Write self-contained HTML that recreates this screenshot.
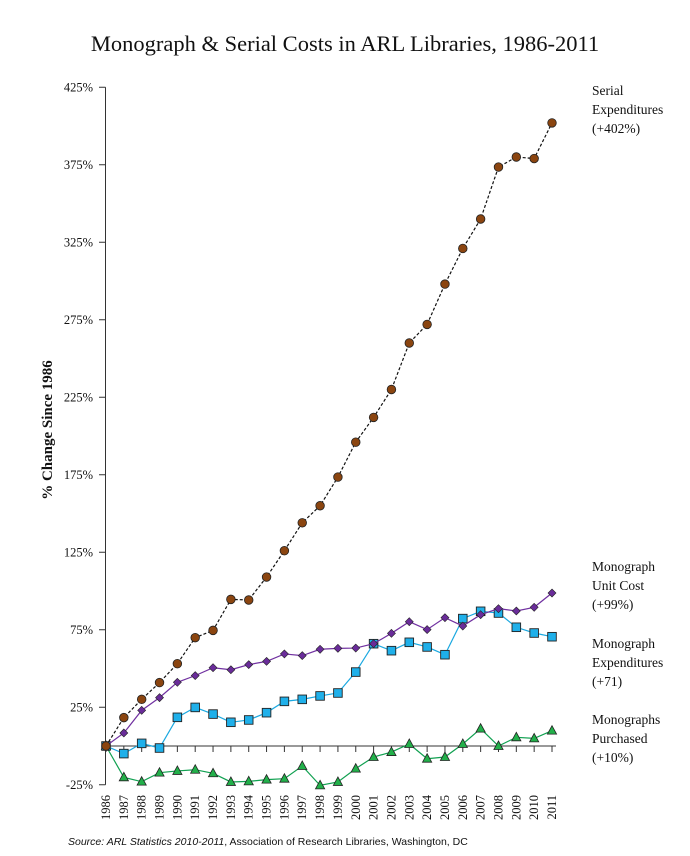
<!DOCTYPE html>
<html><head><meta charset="utf-8"><style>
body{margin:0;background:#fff;width:690px;height:851px;overflow:hidden}
svg text{font-family:"Liberation Serif",serif;fill:#111}
</style></head><body>
<svg id="c" width="690" height="851" xmlns="http://www.w3.org/2000/svg"></svg>
<script>
const years=[1986,1987,1988,1989,1990,1991,1992,1993,1994,1995,1996,1997,1998,1999,2000,2001,2002,2003,2004,2005,2006,2007,2008,2009,2010,2011];
const serial=[0,18.3,30.1,40.9,53.1,69.9,74.6,94.6,94.2,109,126,144,155,173.5,196,212,230,260,272,298,321,340,373.5,380,379,402];
const unitCost=[0,8.4,23,31.2,41.1,45.4,50.5,49.2,52.5,54.6,59.4,58.3,62.4,63.0,63.2,66.0,72.7,80.2,75.1,82.8,77.4,84.7,88.6,87.1,89.5,98.7];
const monoExp=[0,-4.9,1.7,-1.3,18.5,24.9,20.6,15.3,16.8,21.5,28.8,30.1,32.3,34.2,47.7,66.0,61.5,66.9,63.9,58.9,82.2,86.9,85.8,76.6,72.9,70.5];
const purchased=[0,-20.2,-23.0,-17.2,-16.1,-15.3,-17.6,-23.2,-22.8,-21.7,-21.1,-12.9,-25.4,-23.2,-14.6,-7.1,-3.9,1.3,-8.2,-7.1,1.3,11.2,0,5.6,4.9,9.9];
const yTicks=[425,375,325,275,225,175,125,75,25,-25];

const svg=document.getElementById('c');
const NS='http://www.w3.org/2000/svg';
const X=i=>106+i*17.84;
const Y=v=>746-v*1.55;
function mk(t,a,p){const e=document.createElementNS(NS,t);for(const k in a)e.setAttribute(k,a[k]);(p||svg).appendChild(e);return e;}

let t=mk('text',{x:345,y:51,'text-anchor':'middle','font-size':22.5});
t.textContent='Monograph & Serial Costs in ARL Libraries, 1986-2011';



let ya=mk('line',{x1:105.5,y1:Y(425),x2:105.5,y2:Y(-25),stroke:'#333','stroke-width':1});


yTicks.forEach(v=>{
  mk('line',{x1:99,x2:105.5,y1:Y(v),y2:Y(v),stroke:'#333'});
  const l=mk('text',{x:93,y:Y(v)+4,'text-anchor':'end','font-size':12.5});
  l.textContent=v+'%';
  
  
});
let xa=mk('line',{x1:105.5,y1:Y(0),x2:X(years.length-1)+4,y2:Y(0),stroke:'#333'});


years.forEach((yr,i)=>{
  mk('line',{x1:X(i),x2:X(i),y1:Y(0),y2:Y(0)+6,stroke:'#333'});
  const l=mk('text',{x:0,y:0,'text-anchor':'end','font-size':12.5,transform:`translate(${X(i)+4},795) rotate(-90)`});
  l.textContent=yr;
  
  
});
let yt=mk('text',{x:0,y:0,'text-anchor':'middle','font-size':15,'font-weight':'bold',transform:'translate(52,430) rotate(-90)'});
yt.textContent='% Change Since 1986';



function series(data,name,stroke,dash,marker,fill){
  const g=mk('g',{});
  
  
  mk('polyline',{points:data.map((v,i)=>X(i)+','+Y(v)).join(' '),fill:'none',stroke:stroke,'stroke-width':1.2,'stroke-dasharray':dash||''},g);
  data.forEach((v,i)=>{
    const x=X(i),y=Y(v);let m;
    if(marker==='circle')m=mk('circle',{cx:x,cy:y,r:4.3,fill:fill,stroke:'#222','stroke-width':0.8},g);
    else if(marker==='square')m=mk('rect',{x:x-4.3,y:y-4.3,width:8.6,height:8.6,fill:fill,stroke:'#222','stroke-width':0.9},g);
    else if(marker==='diamond')m=mk('polygon',{points:`${x},${y-4} ${x+4},${y} ${x},${y+4} ${x-4},${y}`,fill:fill,stroke:'#222','stroke-width':0.6},g);
    else m=mk('polygon',{points:`${x},${y-5} ${x+4.6},${y+3.5} ${x-4.6},${y+3.5}`,fill:fill,stroke:'#222','stroke-width':0.8},g);
    
    
  });
}
series(purchased,'monographs-purchased','#10a050','','triangle','#22b04a');
series(monoExp,'monograph-expenditures','#1aa8e0','','square','#1fb0ea');
series(unitCost,'monograph-unit-cost','#7030a0','','diamond','#6a2c9a');
series(serial,'serial-expenditures','#111','3,2','circle','#8b4510');

const labels=[['serial-label',['Serial','Expenditures','(+402%)'],95],['unit-cost-label',['Monograph','Unit Cost','(+99%)'],571],['mono-exp-label',['Monograph','Expenditures','(+71)'],648],['purchased-label',['Monographs','Purchased','(+10%)'],724]];
labels.forEach(([n,ls,y0])=>{
  const tx=mk('text',{x:592,y:y0,'font-size':13.5});
  
  
  ls.forEach((s,k)=>{const ts=mk('tspan',{x:592,y:y0+k*19},tx);ts.textContent=s;});
});
let src=mk('text',{x:68,y:845,'font-size':10.5,'font-style':'italic',style:'font-family:"Liberation Sans",sans-serif'});


src.innerHTML='Source: <tspan>ARL Statistics 2010-2011</tspan><tspan font-style="normal">, Association of Research Libraries, Washington, DC</tspan>';
</script>
</body></html>
